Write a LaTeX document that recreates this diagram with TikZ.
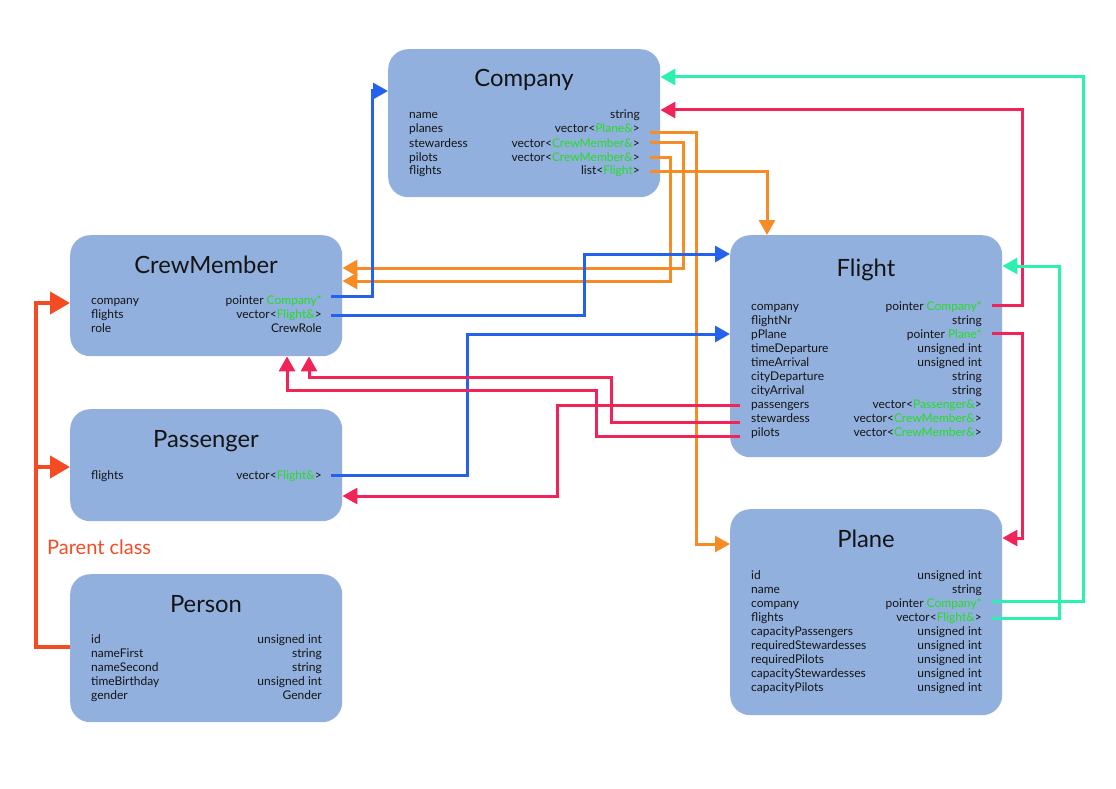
\documentclass[tikz,border=0pt]{standalone}
\usepackage{fontspec}
\setmainfont{Lato}
\usetikzlibrary{arrows.meta}
\definecolor{boxfill}{RGB}{146,176,222}
\definecolor{textblack}{RGB}{20,20,20}
\definecolor{typegreen}{RGB}{34,222,34}
\definecolor{corange}{RGB}{245,140,38}
\definecolor{cblue}{RGB}{36,98,238}
\definecolor{cred}{RGB}{240,36,88}
\definecolor{cgreen}{RGB}{44,240,176}
\definecolor{cinherit}{RGB}{245,75,35}
\newcommand{\tg}[1]{\textcolor{typegreen}{#1}}
\newcommand{\classrows}[5]{%
  \foreach \l/\r [count=\i from 0] in {#5} {%
    \node[lbl] (#1-l\i) at (#2,{#4+14*\i}) {\l};
    \node[typ] (#1-r\i) at (#3,{#4+14*\i}) {\r};
  }}
\begin{document}
\begin{tikzpicture}[x=1pt,y=-1pt,
  box/.style={fill=boxfill, rounded corners=20pt, minimum width=272pt, anchor=north west, inner sep=0pt, draw=none},
  title/.style={font=\fontsize{23.8}{28}\selectfont, text=textblack, anchor=base, inner sep=0pt},
  lbl/.style={font=\fontsize{12}{14}\selectfont, text=textblack, anchor=base west, inner sep=0pt},
  typ/.style={font=\fontsize{12}{14}\selectfont, text=textblack, anchor=base east, inner sep=0pt},
  conn/.style={line width=3pt, -{Triangle[length=15pt,width=16pt]}},
  oconn/.style={conn, draw=corange, -{Triangle[length=15pt,width=16pt,fill=corange]}},
  bconn/.style={conn, draw=cblue},
  rconn/.style={conn, draw=cred},
  gconn/.style={conn, draw=cgreen},
  iconn/.style={line width=4pt, draw=cinherit, -{Triangle[length=20pt,width=22pt]}},
  iline/.style={line width=4pt, draw=cinherit}
]
\useasboundingbox (0,0) rectangle (1116,789);

% boxes
\node[box, minimum height=148pt] (company) at (388,49) {};
\node[box, minimum height=121pt] (crew) at (70,235) {};
\node[box, minimum height=112pt] (passenger) at (70,409) {};
\node[box, minimum height=148pt] (person) at (70,574) {};
\node[box, minimum height=222pt] (flight) at (730,235) {};
\node[box, minimum height=206pt] (plane) at (730,509) {};

% titles
\node[title] (company-t) at (524,87) {Company};
\node[title] (crew-t) at (206,273) {CrewMember};
\node[title] (passenger-t) at (206,447) {Passenger};
\node[title] (person-t) at (206,612) {Person};
\node[title] (flight-t) at (866,276) {Flight};
\node[title] (plane-t) at (866,547) {Plane};

% rows
\classrows{co}{409}{640}{119}{name/string, planes/{vector<\tg{Plane\&}>}, stewardess/{vector<\tg{CrewMember\&}>}, pilots/{vector<\tg{CrewMember\&}>}, flights/{list<\tg{Flight}>}}
\classrows{cm}{91}{322}{304.5}{company/{pointer \tg{Company*}}, flights/{vector<\tg{Flight\&}>}, role/CrewRole}
\classrows{pa}{91}{322}{479}{flights/{vector<\tg{Flight\&}>}}
\classrows{pe}{91}{322}{643}{id/unsigned int, nameFirst/string, nameSecond/string, timeBirthday/unsigned int, gender/Gender}
\classrows{fl}{751}{982}{310}{company/{pointer \tg{Company*}}, flightNr/string, pPlane/{pointer \tg{Plane*}}, timeDeparture/unsigned int, timeArrival/unsigned int, cityDeparture/string, cityArrival/string, passengers/{vector<\tg{Passenger\&}>}, stewardess/{vector<\tg{CrewMember\&}>}, pilots/{vector<\tg{CrewMember\&}>}}
\classrows{pl}{751}{982}{579}{id/unsigned int, name/string, company/{pointer \tg{Company*}}, flights/{vector<\tg{Flight\&}>}, capacityPassengers/unsigned int, requiredStewardesses/unsigned int, requiredPilots/unsigned int, capacityStewardesses/unsigned int, capacityPilots/unsigned int}

% ports
\coordinate (co-p1) at (650,133);
\coordinate (co-p2) at (650,143);
\coordinate (co-p3) at (650,157);
\coordinate (co-p4) at (650,171);
\coordinate (cm-p0) at (331,296);
\coordinate (cm-p1) at (331,315);
\coordinate (pa-p0) at (331,475);
\coordinate (fl-p0) at (992,305);
\coordinate (fl-p2) at (992,333);
\coordinate (fl-p7) at (740,405);
\coordinate (fl-p8) at (740,422);
\coordinate (fl-p9) at (740,436);
\coordinate (pl-p2) at (992,601);
\coordinate (pl-p3) at (992,618);
\coordinate (inh) at (36,467);

% orange
\draw[oconn] (co-p1) -- (696,133) -- (696,544) -- (plane.west |- 0,544);
\draw[oconn] (co-p2) -- (683,143) -- (683,268) -- (crew.east |- 0,268);
\draw[oconn] (co-p3) -- (670,157) -- (670,281) -- (crew.east |- 0,281);
\draw[oconn] (co-p4) -- (767,171) -- (flight.north -| 767,0);

% blue
\draw[bconn] (cm-p0) -- (372,296) -- (372,91) -- (company.west |- 0,91);
\draw[bconn] (cm-p1) -- (584,315) -- (584,254) -- (flight.west |- 0,254);
\draw[bconn] (pa-p0) -- (467,475) -- (467,334) -- (flight.west |- 0,334);

% red
\draw[rconn] (fl-p0) -- (1022,305) -- (1022,110) -- (company.east |- 0,110);
\draw[rconn] (fl-p2) -- (1022,333) -- (1022,538) -- (plane.east |- 0,538);
\draw[rconn] (fl-p7) -- (557,405) -- (557,496) -- (passenger.east |- 0,496);
\draw[rconn] (fl-p8) -- (611,422) -- (611,377) -- (309,377) -- (crew.south -| 309,0);
\draw[rconn] (fl-p9) -- (596,436) -- (596,390) -- (287,390) -- (crew.south -| 287,0);

% green
\draw[gconn] (pl-p2) -- (1083,601) -- (1083,77) -- (company.east |- 0,77);
\draw[gconn] (pl-p3) -- (1059,618) -- (1059,266) -- (flight.east |- 0,266);

% inheritance
\draw[iconn] (person.west |- 0,647) -- (36,647) -- (36,303) -- (crew.west |- 0,303);
\draw[iconn] (inh) -- (passenger.west |- 0,467);
\node[anchor=base west, inner sep=0pt, text=cinherit, font=\fontsize{20}{24}\selectfont] (parentlbl) at (47,554) {Parent class};
\end{tikzpicture}
\end{document}
